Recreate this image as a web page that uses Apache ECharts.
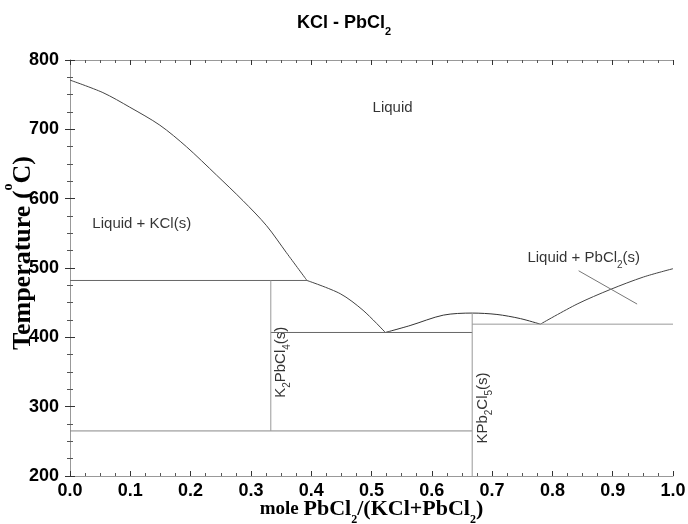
<!DOCTYPE html>
<html>
<head>
<meta charset="utf-8">
<script src="https://cdn.jsdelivr.net/npm/echarts@6/dist/echarts.min.js"></script>
<style>html,body{margin:0;padding:0;background:#fff}#c{width:688px;height:524px}</style>
</head>
<body>
<div id="c"></div>
<script>
// Data (mole fraction PbCl2, temperature °C)
const kclLiquidus = [[0,771],[0.0545,753],[0.099,732],[0.149,706],[0.193,675],[0.243,634],[0.287,597],[0.326,561],[0.359,522],[0.393,482]];
const k2pbcl4Liquidus = [[0.393,482],[0.448,463],[0.486,439],[0.523,407]];
const kpb2cl5Liquidus = [[0.523,407],[0.564,417],[0.619,432],[0.667,435],[0.708,433],[0.747,427],[0.780,419]];
const pbcl2Liquidus = [[0.780,419],[0.841,448],[0.896,469],[0.951,487],[1.0,499]];
const pointerLine = [[0.8435,496],[0.9405,448]];
const eutectic1 = [[0,482],[0.393,482]];
const solidLow = [[0,265],[0.667,265]];
const eutectic2 = [[0.333,407],[0.667,407]];
const eutectic3 = [[0.667,419],[1,419]];
const k2pbcl4Line = [[0.333,265],[0.333,482]];
const kpb2cl5Line = [[0.667,200],[0.667,435]];
const regionLabels = [
  {value:[0.535,731], text:'Liquid', rot:0},
  {value:[0.119,563], text:'Liquid + KCl(s)', rot:0},
  {value:[0.852,514], text:'Liquid + PbCl{sub|2}(s)', rot:0},
  {value:[0.349,364], text:'K{sub|2}PbCl{sub|4}(s)', rot:90},
  {value:[0.685,298], text:'KPb{sub|2}Cl{sub|5}(s)', rot:90}
];
const xTicks = {min:0, max:1, step:0.1};
const yTicks = {min:200, max:800, step:100};

const chart = echarts.init(document.getElementById('c'));
const tickStyle = {show:true, inside:true, length:5, lineStyle:{color:'#333'}};
const minorStyle = {show:true, splitNumber:4, length:3, lineStyle:{color:'#555'}};
const axisLine = {show:true, lineStyle:{color:'#999', width:1}};
function lineSeries(data, color, smooth){
  return {type:'line', data:data, showSymbol:false, symbol:'none', silent:true, smooth:smooth||false,
    lineStyle:{color:color, width:1}, animation:false};
}
const labelSub = {sub:{fontSize:10, verticalAlign:'bottom', padding:[0,0,-4,0], fontFamily:'Liberation Sans'}};
chart.setOption({
  animation:false,
  title:{text:'KCl - PbCl{sub|2}', left:'center', top:9,
    textStyle:{fontSize:18, fontWeight:'bold', fontFamily:'Liberation Sans', color:'#000',
      rich:{sub:{fontSize:11, fontWeight:'bold', verticalAlign:'bottom', padding:[0,0,-5,0]}}}},
  grid:{left:70, right:15, top:60, bottom:48, containLabel:false, outerBoundsMode:'none'},
  xAxis:[
    {type:'value', min:xTicks.min, max:xTicks.max, interval:xTicks.step, position:'bottom',
      axisLine:axisLine, axisTick:tickStyle, minorTick:minorStyle, splitLine:{show:false},
      axisLabel:{formatter:v=>v.toFixed(1), fontSize:18, fontWeight:'bold', fontFamily:'Liberation Sans', color:'#000', margin:6},
      name:'{m|mole }PbCl{s|2}/(KCl+PbCl{s|2})', nameLocation:'middle', nameGap:22, nameMoveOverlap:false,
      nameTextStyle:{fontSize:22, fontWeight:'bold', fontFamily:'Liberation Serif', color:'#000',
        rich:{m:{fontSize:19, fontWeight:'bold', fontFamily:'Liberation Serif'},
              s:{fontSize:12, fontWeight:'bold', fontFamily:'Liberation Serif', verticalAlign:'bottom', padding:[0,0,-6,0]}}}},
    {type:'value', min:xTicks.min, max:xTicks.max, interval:xTicks.step, position:'top',
      axisLine:axisLine, axisTick:tickStyle, minorTick:minorStyle, splitLine:{show:false}, axisLabel:{show:false}}
  ],
  yAxis:[
    {type:'value', min:yTicks.min, max:yTicks.max, interval:yTicks.step, position:'left',
      axisLine:axisLine, axisTick:tickStyle, minorTick:minorStyle, splitLine:{show:false},
      axisLabel:{fontSize:18, fontWeight:'bold', fontFamily:'Liberation Sans', color:'#000', margin:11},
      name:'Temperature ({o|o}C)', nameLocation:'middle', nameGap:34, nameRotate:90, nameMoveOverlap:false,
      nameTextStyle:{fontSize:26, fontWeight:'bold', fontFamily:'Liberation Serif', color:'#000', padding:[0,0,0,30],
        rich:{o:{fontSize:14, fontWeight:'bold', fontFamily:'Liberation Serif', verticalAlign:'top', padding:[-9,0,0,0]}}}},
    {type:'value', min:yTicks.min, max:yTicks.max, interval:yTicks.step, position:'right',
      axisLine:axisLine, axisTick:tickStyle, minorTick:minorStyle, splitLine:{show:false}, axisLabel:{show:false}}
  ],
  series:[
    lineSeries(kclLiquidus,'#444',0.3),
    lineSeries(k2pbcl4Liquidus,'#444',0.3),
    lineSeries(kpb2cl5Liquidus,'#333',0.3),
    lineSeries(pbcl2Liquidus,'#444',0.3),
    lineSeries(pointerLine,'#777'),
    lineSeries(eutectic1,'#666'),
    lineSeries(solidLow,'#888'),
    lineSeries(eutectic2,'#666'),
    lineSeries(eutectic3,'#999'),
    lineSeries(k2pbcl4Line,'#999'),
    lineSeries(kpb2cl5Line,'#999'),
    {type:'scatter', symbolSize:0, silent:true, animation:false,
      data:regionLabels.map(d=>({value:d.value,
        label:{show:true, position:'inside', rotate:d.rot, formatter:d.text, align:'center', verticalAlign:'middle',
          fontSize:15, fontFamily:'Liberation Sans', color:'#000', rich:labelSub}}))}
  ]
});
</script>
</body>
</html>
